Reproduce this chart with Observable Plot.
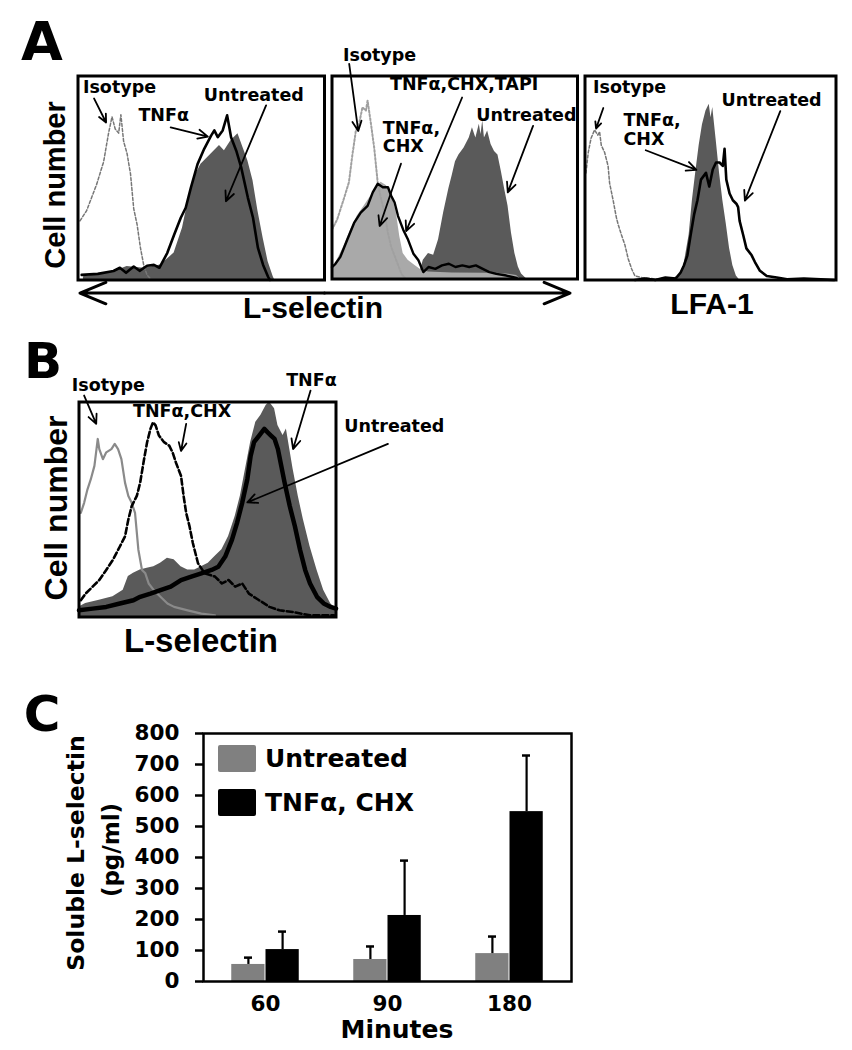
<!DOCTYPE html>
<html><head><meta charset="utf-8">
<script src="https://cdn.jsdelivr.net/npm/d3@7"></script>
<script src="https://cdn.jsdelivr.net/npm/@observablehq/plot@0.6"></script>
<style>
body{margin:0;background:#fff;}
#fig{position:relative;width:852px;height:1050px;font-family:"Liberation Sans",Arial,sans-serif;font-weight:bold;color:#000;overflow:hidden;}
.pl{position:absolute;}
.lbl{position:absolute;white-space:nowrap;line-height:1;transform:translate(-50%,-50%);}
.rot{transform:translate(-50%,-50%) rotate(-90deg);}
.dj{font-family:"DejaVu Sans",sans-serif;}
.sq{position:absolute;}
</style></head><body><div id="fig"></div>
<script>
// ---------- DATA ----------
// Panel A, box 1 (L-selectin): channel 0-100, relative cell count 0-100
const a1Isotype = [[0.8,29],[3.5,34],[7.6,47],[10.4,58],[12.4,72],[13.8,80],[15.1,74],[16.5,72],[17.4,81],[18.5,68],[19.9,62],[21.3,52],[22.6,35],[24,27],[25.3,16],[26.7,7],[28,2.5],[29.4,0.5]];
const a1Untreated = [[2.2,1.6],[14.4,4.1],[19.9,6.6],[26.7,5.8],[33.5,7.4],[39,13.2],[42.4,25.5],[44.4,37.1],[47.1,50.2],[49.9,56.8],[52.6,60.1],[55.3,63.4],[57.4,65.9],[59.4,63.4],[62.1,68.4],[64.9,71.7],[66.9,65.1],[68.9,58.5],[71,48.6],[73,33.8],[75.1,20.6],[77.1,9.1],[79.2,1.6],[79.8,0]];
const a1TNF = [[1.5,2.5],[8,3],[14.4,4.4],[17,6],[19.5,3.5],[22.6,6.6],[25,4.5],[28,7],[30.8,7.4],[33,6],[36.2,13.2],[39,22.2],[41.7,30.5],[43.7,35.4],[45.8,45.3],[48.5,56.8],[51.2,64.3],[54,70.8],[55.3,73.3],[56.7,70],[58.7,73.3],[60.5,80.7],[62.1,70],[64.2,63.4],[66.2,55.2],[68.9,40.4],[71,30.5],[73,15.7],[75.1,7.4],[77.1,1.6],[77.8,0]];

// Panel A, box 2 (L-selectin)
const a2Isotype = [[0,24.3],[2.1,29.3],[4.8,39.4],[6.9,47.7],[8.3,61.1],[9.7,72.9],[11,76.2],[12.4,84.6],[13.8,82.9],[14.5,87.9],[15.9,76.2],[17.2,64.5],[18.6,47.7],[20,39.4],[21.4,32.7],[22.8,22.6],[24.1,15.9],[26.2,9.2],[28.3,2.5],[29.7,0.5]];
const a2TnfChx = [[0,4.2],[2.1,9.2],[4.8,15.9],[7.6,24.3],[10.3,31],[13.1,36],[15.9,41],[17.9,45.2],[20,47.7],[22.1,46.1],[24.1,42.7],[26.2,32.7],[27.6,20.9],[29,12.6],[31,9.2],[33.8,6.7],[36.6,4.2],[39.3,3.4],[49,3],[62.8,2.8],[71,2.5],[75.2,1.7],[76.6,0]];
const a2TnfChxTapi = [[0,5.9],[1.4,7.5],[3.4,10.9],[6.2,19.3],[9,27.6],[11.7,32.7],[14.5,36],[16.6,42.7],[18.6,46.9],[20.7,45.2],[22.8,45.2],[24.1,41],[25.5,37.7],[26.9,31],[29,24.3],[31,19.3],[33.1,12.6],[35.2,9.2],[37.2,3.4],[39.3,5.9],[42.1,5],[44.8,6.7],[47.6,7.5],[50.3,5.9],[53.1,6.7],[55.9,5.9],[58.6,6.7],[61.4,5],[64.1,3.4],[66.9,2.5],[71,1.7],[75.2,0.5]];
const a2Untreated = [[35.2,0.5],[37.2,9.2],[39.3,12.6],[41.4,11.7],[43.4,19.3],[45.5,32.7],[47.6,44.4],[49,51.1],[50.3,57.8],[51.7,61.1],[53.8,64.5],[55.9,69.5],[57.2,74.5],[58.6,69.5],[60,76.2],[60.7,71.2],[61.4,77.9],[62.1,69.5],[63.4,72.9],[64.8,66.2],[66.2,62.8],[67.6,61.1],[69,52.8],[70.3,44.4],[71.7,36],[73.1,22.6],[74.5,12.6],[75.9,5.9],[77.2,2.5],[79.3,0]];

// Panel A, box 3 (LFA-1)
const a3Isotype = [[0.4,52.5],[1.3,62.6],[2.4,69.4],[3.8,73.6],[5.1,71],[5.8,72.7],[6.5,66],[7.8,62.6],[9.2,55.9],[9.8,47.5],[11.2,39.1],[12.5,30.6],[13.2,27.3],[14.5,22.2],[15.9,17.2],[17.2,10.4],[18.6,5.4],[19.9,2],[22.6,1.2],[26.6,0.7],[30.7,0]];
const a3TnfChx = [[33.4,0],[37.4,2],[39.4,7.1],[41.5,22.2],[42.8,39.1],[44.1,52.5],[45.5,66],[46.8,76.1],[48.2,82.8],[49.5,86.2],[50.2,79.5],[50.9,84.5],[52.2,69.4],[53.6,52.5],[54.9,39.1],[56.3,27.3],[57.6,15.5],[58.9,7.1],[60.3,2],[61.6,0]];
const a3Untreated = [[19.9,0],[24,0.7],[28,0],[32,1.2],[36.1,0.7],[38.1,3.7],[39.4,7.1],[40.8,12.1],[42.1,22.2],[43.5,32.3],[44.8,39.1],[46.2,49.2],[48.2,52.5],[49.5,45.8],[50.9,54.2],[52.2,57.6],[53.6,57.6],[54.9,55.9],[55.6,64.3],[56.3,49.2],[57.6,42.4],[58.9,39.1],[60.3,37.4],[61,35.7],[61.6,29],[63,22.2],[64.3,15.5],[66.4,12.1],[67.7,8.8],[69.7,4.5],[72.4,2],[76.4,1.2],[80.5,0.3],[87.2,0.7],[93.9,0.3],[99.3,0]];

// Panel B (L-selectin)
const bIsotype = [[0.7,48.4],[2,53.1],[3.3,59.4],[4.6,64.1],[6,70.3],[7.3,82.8],[7.9,78.1],[9.3,73.4],[10.6,76.6],[12.6,78.1],[13.9,80.5],[15.2,78.1],[16.5,73.4],[17.9,62.5],[19.2,56.3],[20.5,53.1],[21.8,48.4],[23.1,31.3],[24.5,21.9],[25.8,20.3],[27.1,15.6],[29.1,12.5],[31.7,9.4],[34.4,6.3],[37,4.7],[42.3,3.1],[47.6,1.6],[52.9,0.8]];
const bTnfChx = [[0.7,7.8],[2.6,10.9],[5.3,14.1],[7.9,17.2],[10.6,21.9],[13.2,26.6],[15.9,32.8],[17.9,37.5],[19.2,45.3],[20.5,51.6],[22.5,56.3],[23.8,62.5],[25.1,71.9],[26.5,81.3],[27.8,87.5],[28.8,90.6],[29.8,89.1],[31.1,84.4],[33.1,81.3],[35.1,79.7],[36.4,76.6],[37.7,71.9],[39.7,65.6],[40.7,56.3],[41.7,48.4],[43,42.2],[44.3,34.4],[46.3,25],[48.9,20.3],[52.9,18.8],[55.6,15.6],[58.2,17.2],[60.8,14.1],[63.5,15.6],[66.1,10.9],[70.1,7.8],[74.1,4.7],[78,3.1],[83.3,2.3],[89.9,0.8],[99.2,0.8]];
const bTnf = [[0,4.7],[2.6,6.3],[7.9,7.8],[13.2,9.4],[17.2,12.5],[19.2,18.8],[21.2,20.3],[23.8,21.9],[26.5,22.7],[29.1,23.4],[31.7,25],[34.4,27.3],[37,26.6],[39.7,23.4],[42.3,21.9],[45,21.9],[47.6,23.4],[50.3,25],[52.9,28.1],[55.6,31.3],[58.2,37.5],[60.8,46.9],[62.8,56.3],[64.8,68.8],[66.8,81.3],[68.8,90.6],[70.8,93.8],[72.8,98.4],[74.1,100],[76.1,96.9],[77.4,89.1],[79.4,84.4],[80.7,87.5],[82,78.1],[83.3,68.8],[85.3,56.3],[87.3,45.3],[89.9,32.8],[92.6,21.9],[95.2,12.5],[97.9,6.3],[100,3.1]];
const bUntreated = [[0,3.1],[5.3,3.9],[10.6,4.7],[15.9,6.3],[21.2,7.8],[23.8,9.4],[27.8,10.9],[31.7,12.5],[35.7,14.1],[39.7,17.2],[43.7,18.8],[47.6,20.3],[51.6,21.9],[54.2,23.4],[56.9,28.1],[59.5,35.9],[61.5,43.8],[63.5,53.1],[65.5,64.1],[66.8,75],[68.1,81.3],[70.1,84.4],[72.1,87.5],[73.4,85.9],[74.7,84.4],[76.1,82.8],[77.4,78.1],[78.7,70.3],[80,62.5],[82,51.6],[84,42.2],[86,31.3],[88,21.9],[89.9,15.6],[92.6,9.4],[95.2,6.3],[97.9,4.7],[100,3.9]];

// Panel C: soluble L-selectin (pg/ml)
const minutes = ["60", "90", "180"];
const untreatedMean = [55, 71, 90];
const untreatedErr = [22, 42, 55];
const tnfChxMean = [103, 213, 548];
const tnfChxErr = [58, 177, 181];
const yTicks = [0, 100, 200, 300, 400, 500, 600, 700, 800];

// ---------- annotations ----------
const a1Labels = [{t:"Isotype", x:2, y:98}, {t:"TNFα", x:24.5, y:84.2}, {t:"Untreated", x:51, y:94}];
const a1Arrows = [{x1:6.5,y1:89,x2:11.4,y2:77.2},{x1:37.6,y1:74.8,x2:52.7,y2:70.3},{x1:76.3,y1:85.6,x2:60,y2:38.6}];
const a2Labels = [{t:"Isotype", x:4.5, y:114}, {t:"TNFα,CHX,TAPI", x:23.6, y:99.5}, {t:"TNFα,\nCHX", x:20.7, y:77.9}, {t:"Untreated", x:58.8, y:84.4}];
const a2Arrows = [{x1:7,y1:106,x2:10.7,y2:72.9},{x1:53,y1:89.4,x2:30.2,y2:23.6},{x1:28.1,y1:56.8,x2:19.4,y2:26.1},{x1:81.9,y1:75.4,x2:71.6,y2:42.7}];
const a3Labels = [{t:"Isotype", x:3.2, y:98}, {t:"TNFα,\nCHX", x:15.3, y:81.8}, {t:"Untreated", x:54.4, y:91.9}];
const a3Arrows = [{x1:7.3,y1:84.3,x2:4.4,y2:74.2},{x1:24.2,y1:63.6,x2:44.4,y2:54},{x1:77.8,y1:82.8,x2:63.7,y2:38.9}];
const bLabels = [{t:"Isotype", x:-2.8, y:111}, {t:"TNFα,CHX", x:21, y:99.2}, {t:"TNFα", x:80.6, y:113.3}, {t:"Untreated", x:103.2, y:92.2}];
const bArrows = [{x1:2,y1:103,x2:6.7,y2:89.8},{x1:41.7,y1:89.8,x2:39.7,y2:77.2},{x1:90.1,y1:105.3,x2:83.3,y2:78.1},{x1:120.2,y1:80.5,x2:65.5,y2:53.3}];
const lselAxisArrows = [{x1:100,y1:-6.4,x2:0.8,y2:-6.4},{x1:100,y1:-6.4,x2:199.6,y2:-6.4}];

const FONT = '"Liberation Sans", Arial, Helvetica, sans-serif';
const DJ = '"DejaVu Sans", sans-serif';
const DARK = "#5a5a5a", LIGHT = "#a9a9a9";
const fig = document.getElementById("fig");

function place(el, left, top) {
  el.classList.add("pl");
  el.style.left = left + "px";
  el.style.top = top + "px";
  fig.appendChild(el);
}
const rows = (pairs) => pairs.map(([x, y]) => ({x, y}));

function histo(cfg) {
  const marks = [];
  for (const L of cfg.layers) {
    if (L.fill) marks.push(Plot.areaY(rows(L.data), {x: "x", y: "y", fill: L.fill, curve: "linear"}));
    else marks.push(Plot.line(rows(L.data), {x: "x", y: "y", stroke: L.stroke, strokeWidth: L.sw, strokeDasharray: L.dash, curve: "linear"}));
  }
  marks.push(Plot.frame({stroke: "#000", strokeWidth: 3}));
  marks.push(Plot.text(cfg.labels, {x: "x", y: "y", text: "t", textAnchor: "start", lineAnchor: "top", fontSize: 17.5, fontFamily: DJ, fontWeight: "bold", lineHeight: 1.05, fill: "#000"}));
  marks.push(Plot.arrow(cfg.arrows, {x1: "x1", y1: "y1", x2: "x2", y2: "y2", stroke: "#000", strokeWidth: 1.8, headLength: 9, headAngle: 50}));
  if (cfg.extra) marks.push(...cfg.extra);
  const p = Plot.plot({
    width: cfg.w, height: cfg.h,
    marginLeft: cfg.ml, marginRight: cfg.mr, marginTop: cfg.mt, marginBottom: cfg.mb,
    x: {domain: [0, 100], axis: null},
    y: {domain: [0, 100], axis: null},
    style: {fontFamily: FONT, fontWeight: "bold", background: "transparent", overflow: "visible", color: "#000"},
    marks
  });
  place(p, cfg.left, cfg.top);
}

// Panel A box 1
histo({left: 0, top: 40, w: 330, h: 280, ml: 77.5, mr: 6, mt: 35.5, mb: 40.5,
  layers: [
    {data: a1Untreated, fill: DARK},
    {data: a1Isotype, stroke: "#777", sw: 1.5, dash: "3,2"},
    {data: a1TNF, stroke: "#000", sw: 2.6}
  ],
  labels: a1Labels, arrows: a1Arrows,
  extra: [Plot.arrow(lselAxisArrows, {x1: "x1", y1: "y1", x2: "x2", y2: "y2", stroke: "#000", strokeWidth: 3, headLength: 14, headAngle: 45})]
});
// Panel A box 2
histo({left: 330, top: 40, w: 260, h: 280, ml: 1.5, mr: 13, mt: 35.5, mb: 41.5,
  layers: [
    {data: a2Untreated, fill: DARK},
    {data: a2TnfChx, fill: LIGHT},
    {data: a2Isotype, stroke: "#a0a0a0", sw: 2, dash: "2,2"},
    {data: a2TnfChxTapi, stroke: "#000", sw: 2.4}
  ],
  labels: a2Labels, arrows: a2Arrows
});
// Panel A box 3
histo({left: 580, top: 40, w: 272, h: 280, ml: 4.5, mr: 16.5, mt: 35.5, mb: 40.5,
  layers: [
    {data: a3TnfChx, fill: DARK},
    {data: a3Isotype, stroke: "#777", sw: 1.5, dash: "3,2"},
    {data: a3Untreated, stroke: "#000", sw: 2.6}
  ],
  labels: a3Labels, arrows: a3Arrows
});
// Panel B
histo({left: 0, top: 360, w: 460, h: 300, ml: 78.5, mr: 124.5, mt: 41.5, mb: 43.5,
  layers: [
    {data: bTnf, fill: DARK},
    {data: bIsotype, stroke: "#8a8a8a", sw: 2.2},
    {data: bTnfChx, stroke: "#000", sw: 2.6, dash: "6,3"},
    {data: bUntreated, stroke: "#000", sw: 4.5}
  ],
  labels: bLabels, arrows: bArrows
});

// Panel C bar chart
const cRows = [];
minutes.forEach((m, i) => {
  cRows.push({minute: m, group: "Untreated", value: untreatedMean[i], err: untreatedErr[i]});
  cRows.push({minute: m, group: "TNFα, CHX", value: tnfChxMean[i], err: tnfChxErr[i]});
});
const cU = cRows.filter(d => d.group === "Untreated");
const cT = cRows.filter(d => d.group !== "Untreated");
const pc = Plot.plot({
  width: 600, height: 360, marginLeft: 203, marginRight: 29, marginTop: 43, marginBottom: 69,
  style: {fontFamily: DJ, fontWeight: "bold", fontSize: "21.5px", background: "transparent", overflow: "visible", color: "#000"},
  x: {domain: minutes, padding: 0},
  y: {domain: [0, 800]},
  marks: [
    Plot.barY(cU, {x: "minute", y: "value", fill: "#808080", insetLeft: 27.25, insetRight: 61.5}),
    Plot.barY(cT, {x: "minute", y: "value", fill: "#000", insetLeft: 61.5, insetRight: 27.25}),
    Plot.ruleX(cU, {x: "minute", y1: "value", y2: d => d.value + d.err, dx: -17.1, stroke: "#000", strokeWidth: 2.2}),
    Plot.ruleX(cT, {x: "minute", y1: "value", y2: d => d.value + d.err, dx: 17.1, stroke: "#000", strokeWidth: 2.2}),
    Plot.tickY(cU, {x: "minute", y: d => d.value + d.err, insetLeft: 40, insetRight: 74, stroke: "#000", strokeWidth: 2.5}),
    Plot.tickY(cT, {x: "minute", y: d => d.value + d.err, insetLeft: 74, insetRight: 40, stroke: "#000", strokeWidth: 2.5}),
    Plot.axisY({ticks: yTicks, tickSize: 8, tickPadding: 16, strokeWidth: 2.5, label: null, tickFormat: d => String(d)}),
    Plot.axisX({tickSize: 0, tickPadding: 14, label: null}),
    Plot.frame({stroke: "#000", strokeWidth: 2.5})
  ]
});
place(pc, 0, 690);

// ---------- HTML text ----------
function lab(text, cx, cy, fs, rot, dj) {
  const d = document.createElement("div");
  d.className = "lbl" + (rot ? " rot" : "") + (dj ? " dj" : "");
  d.textContent = text;
  d.style.left = cx + "px";
  d.style.top = cy + "px";
  d.style.fontSize = fs + "px";
  fig.appendChild(d);
}
lab("A", 42, 42, 54, false, true);
lab("B", 43, 361, 50, false, true);
lab("C", 42, 714, 50, false, true);
lab("Cell number", 55, 185, 29, true);
lab("L-selectin", 313, 308, 30);
lab("LFA-1", 712, 304, 30);
lab("Cell number", 56, 508, 32, true);
lab("L-selectin", 201, 640, 33);
lab("Soluble L-selectin", 77, 853, 23.5, true, true);
lab("(pg/ml)", 111, 850, 23, true, true);
lab("Minutes", 397, 1029, 25, false, true);

// legend for panel C
const legend = [{label: "Untreated", color: "#808080", top: 745}, {label: "TNFα, CHX", color: "#000", top: 789}];
legend.forEach(l => {
  const s = document.createElement("div");
  s.className = "sq";
  Object.assign(s.style, {left: "218px", top: l.top + "px", width: "38px", height: "27px", background: l.color, borderRadius: "2px"});
  fig.appendChild(s);
  const t = document.createElement("div");
  t.className = "dj";
  Object.assign(t.style, {position: "absolute", left: "265px", top: (l.top + 1) + "px", fontSize: "25px", lineHeight: "1", whiteSpace: "nowrap"});
  t.textContent = l.label;
  fig.appendChild(t);
});
</script></body></html>
